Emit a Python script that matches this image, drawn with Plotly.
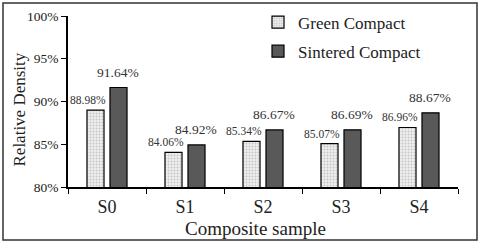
import plotly.graph_objects as go

categories = ["S0", "S1", "S2", "S3", "S4"]
green = [88.98, 84.06, 85.34, 85.07, 86.96]
sintered = [91.64, 84.92, 86.67, 86.69, 88.67]
y_ticks = [80, 85, 90, 95, 100]

FONT = "Liberation Serif"

fig = go.Figure()
fig.add_trace(go.Bar(
    x=categories, y=green, name="Green Compact", legendgroup="g",
    marker=dict(color="#eeeeee", line=dict(color="black", width=1.2),
                pattern=dict(shape=".", fgcolor="#9a9a9a", bgcolor="#eeeeee", size=3, solidity=0.3)),
))
fig.add_trace(go.Bar(
    x=categories, y=sintered, name="Sintered Compact", legendgroup="s",
    marker=dict(color="#595959", line=dict(color="black", width=1.2)),
))

for c, v in zip(categories, green):
    fig.add_annotation(x=c, y=v, text=f"{v:.2f}%", showarrow=False, xref="x", yref="y",
                       xanchor="center", yanchor="middle",
                       xshift=-19, yshift=10, font=dict(family=FONT, size=11.5, color="#333"))
for c, v in zip(categories, sintered):
    fig.add_annotation(x=c, y=v, text=f"{v:.2f}%", showarrow=False, xref="x", yref="y",
                       xanchor="center", yanchor="middle",
                       xshift=11, yshift=15, font=dict(family=FONT, size=13.5, color="#333"))

L, R, T, B = 68, 22, 16, 56
pw, ph = 480 - L - R, 243 - T - B
fig.add_shape(type="rect", xref="paper", yref="paper",
              x0=(3 - L) / pw, x1=(477 - L) / pw,
              y0=((243 - B) - 240) / ph, y1=((243 - B) - 3) / ph,
              line=dict(color="#333", width=1.5), fillcolor="rgba(0,0,0,0)", layer="below")

# axis titles
fig.add_annotation(text="Composite sample", xref="paper", yref="paper",
                   x=(255 - L) / pw, y=(243 - B - 228.5) / ph, showarrow=False,
                   xanchor="center", yanchor="middle",
                   font=dict(family=FONT, size=19, color="#222"))
fig.add_annotation(text="Relative Density", xref="paper", yref="paper",
                   x=(19 - L) / pw, y=(243 - B - 109.5) / ph, showarrow=False, textangle=-90,
                   xanchor="center", yanchor="middle",
                   font=dict(family=FONT, size=17, color="#222"))

fig.update_layout(
    width=480, height=243,
    margin=dict(l=L, r=R, t=T, b=B, autoexpand=False),
    paper_bgcolor="white", plot_bgcolor="white",
    barmode="group", bargap=0.41, bargroupgap=0.26,
    font=dict(family=FONT, color="#222"),
    showlegend=True,
    legend=dict(x=(258 - L) / pw, y=1.067, xanchor="left", yanchor="top",
                font=dict(family=FONT, size=17, color="#222"),
                bgcolor="rgba(0,0,0,0)", tracegroupgap=4, itemwidth=30),
    xaxis=dict(showline=True, linecolor="black", linewidth=1.5, automargin=False,
               ticks="outside", ticklen=5, tickcolor="black", tickson="boundaries",
               ticklabelstandoff=3,
               tickfont=dict(family=FONT, size=18, color="#222")),
    yaxis=dict(range=[80, 100], tickvals=y_ticks, ticktext=[f"{t}%" for t in y_ticks],
               showline=True, linecolor="black", linewidth=1.5, showgrid=False, zeroline=False,
               automargin=False,
               ticks="outside", ticklen=5, tickcolor="black",
               tickfont=dict(family=FONT, size=13.5, color="#222")),
)

fig.write_html("out.html", config={"displayModeBar": False},
               post_script="document.body.style.margin='0';document.body.style.overflow='hidden';")
